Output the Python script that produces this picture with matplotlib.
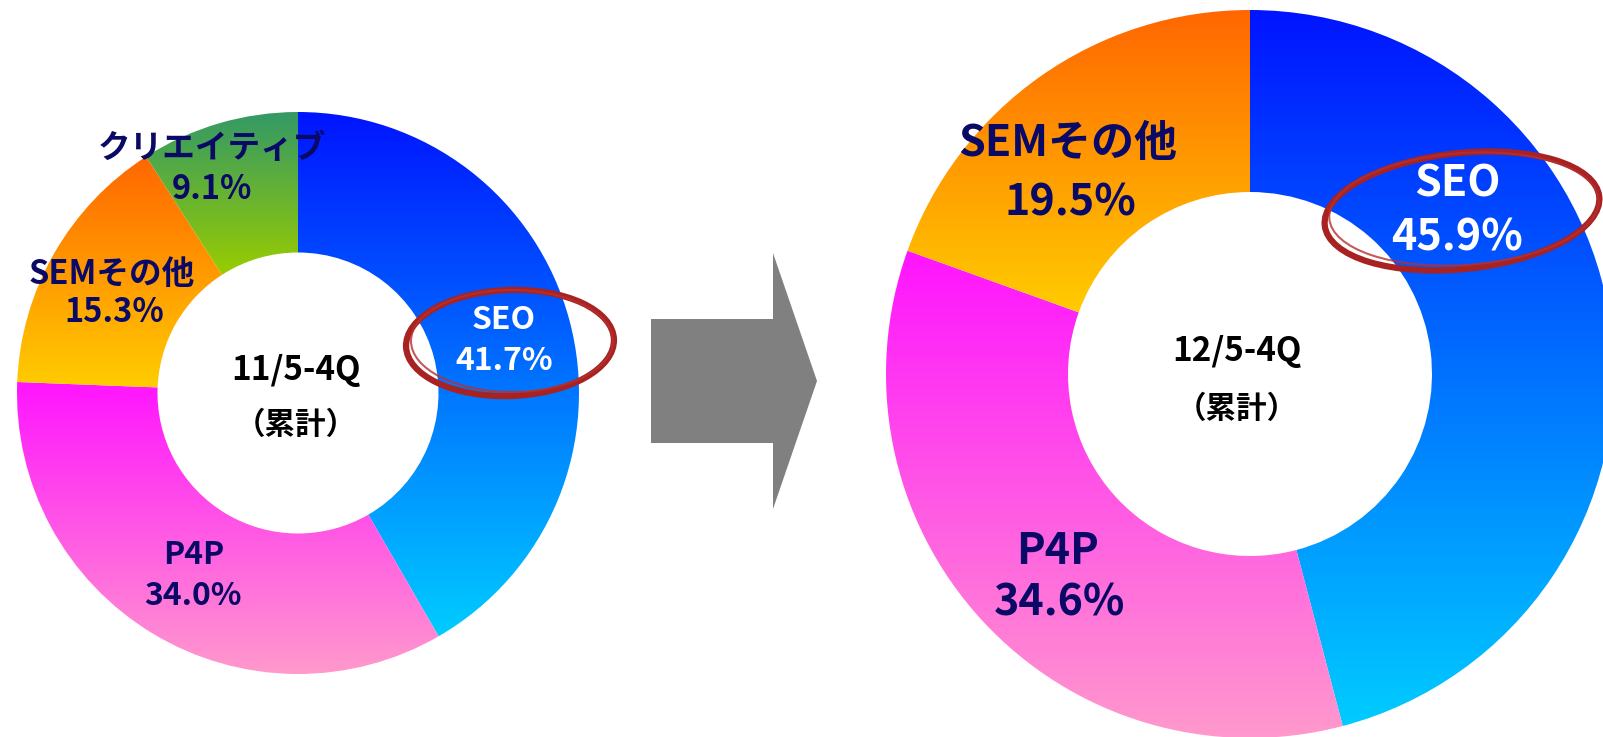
import numpy as np
import matplotlib.pyplot as plt
import matplotlib.patches as mpatches
from matplotlib.colors import to_rgb

W, H = 1603, 737

# chart data
left_labels = ['SEO', 'P4P', 'SEMその他', 'クリエイティブ']
left_values = [41.7, 34.0, 15.3, 9.1]
right_labels = ['SEO', 'P4P', 'SEMその他']
right_values = [45.9, 34.6, 19.5]
left_period = '11/5-4Q'
right_period = '12/5-4Q'
cum_text = '（累計）'

# vertical gradient (top colour, bottom colour) for each category
grad = {
    'SEO': ('#0014ff', '#00ccff'),
    'P4P': ('#ff14ff', '#ff99cc'),
    'SEMその他': ('#ff6600', '#ffcc00'),
    'クリエイティブ': ('#339966', '#99cc00'),
}

navy = '#0a0a66'
jp = ['Noto Sans CJK JP', 'DejaVu Sans']


def yy(p):
    # pixel row (from top) -> data y
    return H - p


def donut(ax, values, labels, cx, cy, r):
    wedges, _ = ax.pie(values, center=(cx, yy(cy)), radius=r, startangle=90,
                       counterclock=False,
                       wedgeprops=dict(width=r * 0.5, facecolor='none',
                                       edgecolor='none'))
    t = np.linspace(0, 1, 256)[:, None, None]
    for w, lab in zip(wedges, labels):
        bb = w.get_path().get_extents()
        top, bot = np.array(to_rgb(grad[lab][0])), np.array(to_rgb(grad[lab][1]))
        img = (1 - t) * top + t * bot
        ax.imshow(img, extent=[bb.x0, bb.x1, bb.y0, bb.y1], origin='upper',
                  aspect='auto', interpolation='bilinear', clip_path=w,
                  zorder=1)
    return wedges


fig = plt.figure(figsize=(W / 100, H / 100), dpi=100)
ax = fig.add_axes([0, 0, 1, 1])

donut(ax, left_values, left_labels, 298, 393, 281)
donut(ax, right_values, right_labels, 1250, 374, 364)

# slice labels: (name pos, pct pos, colour, size)
left_pos = {
    'SEO': ((504, 320), (504, 361), 'white', 23),
    'P4P': ((194, 555), (193, 596), navy, 23),
    'SEMその他': ((112, 274), (114, 312), navy, 23.5),
    'クリエイティブ': ((212, 148), (212, 189), navy, 23.5),
}
right_pos = {
    'SEO': ((1457, 183), (1457, 237), 'white', 31),
    'P4P': ((1058, 551), (1060, 603), navy, 31),
    'SEMその他': ((1068, 143), (1070, 202), navy, 31),
}

for labels, values, pos in [(left_labels, left_values, left_pos),
                            (right_labels, right_values, right_pos)]:
    for lab, v in zip(labels, values):
        (nx, ny), (px, py), col, fs = pos[lab]
        ax.text(nx, yy(ny), lab, ha='center', va='center', color=col,
                fontsize=fs, fontweight='bold', family=jp, zorder=4)
        ax.text(px, yy(py), f'{v:.1f}%', ha='center', va='center', color=col,
                fontsize=fs, fontweight='bold', family=jp, zorder=4)

# centre texts
for (x, y1, y2), per in [((296, 370, 425), left_period),
                          ((1237, 351, 409), right_period)]:
    ax.text(x, yy(y1), per, ha='center', va='center', color='black',
            fontsize=24, fontweight='bold', family=jp, zorder=4)
    ax.text(x, yy(y2), cum_text, ha='center', va='center', color='black',
            fontsize=22, fontweight='bold', family=jp, zorder=4)

# red hand-drawn circles round SEO
for (ex, ey, ew, eh, ang) in [(510, 343, 208, 106, 2), (1462, 211, 276, 116, 6)]:
    ax.add_patch(mpatches.Ellipse((ex, yy(ey)), ew, eh, angle=ang, fill=False,
                                  edgecolor='#a82222', lw=4.5, zorder=5))
    ax.add_patch(mpatches.Ellipse((ex + 2, yy(ey - 2)), ew - 6, eh - 4,
                                  angle=ang - 2, fill=False,
                                  edgecolor='#b83030', lw=1.5, alpha=0.8,
                                  zorder=5))

# grey arrow between the charts
ax.add_patch(mpatches.FancyArrow(651, yy(381), 166, 0, width=124,
                                 head_width=256, head_length=44,
                                 length_includes_head=True,
                                 color='#808080', lw=0, zorder=2))

ax.set_xlim(0, W)
ax.set_ylim(0, H)
ax.set_aspect('auto')
ax.axis('off')

fig.savefig('out.png', dpi=100, facecolor='white')
